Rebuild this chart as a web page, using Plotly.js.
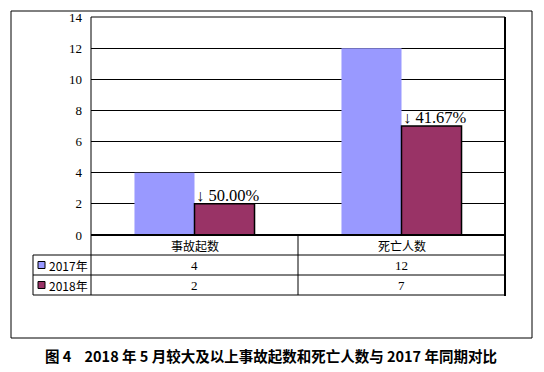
<!DOCTYPE html>
<html><head><meta charset="utf-8">
<script src="https://cdn.plot.ly/plotly-3.0.1.min.js"></script>
<style>html,body{margin:0;padding:0;background:#fff;}#c{width:544px;height:372px;}</style>
</head><body><div id="c"></div>
<script>
var categories = ["事故起数", "死亡人数"];
var seriesNames = ["2017年", "2018年"];
var values2017 = [4, 12];
var values2018 = [2, 7];
var yTicks = [0, 2, 4, 6, 8, 10, 12, 14];
var captionText = "图 4    2018 年 5 月较大及以上事故起数和死亡人数与 2017 年同期对比";

var colors = ["#9999FF", "#993366"];
var cjk = "Noto Sans CJK SC, sans-serif";
var serif = "Liberation Serif, serif";

var traces = [
  {type: "bar", name: seriesNames[0], x: categories, y: values2017,
   marker: {color: colors[0], line: {width: 0}}, hoverinfo: "none"},
  {type: "bar", name: seriesNames[1], x: categories, y: values2018,
   marker: {color: colors[1], line: {color: "#000", width: 1.5}}, hoverinfo: "none"}
];

// pixel helpers (plot area: left 91, right 505, top 17, bottom 235)
var L = 91, R = 505, T = 17, B = 235;
function px(x) { return (x - L) / (R - L); }
function py(y) { return (B - y) / (B - T); }

var shapes = [];
var annotations = [];

// outer frame
shapes.push({type: "rect", xref: "paper", yref: "paper", x0: px(11), x1: px(532), y0: py(338), y1: py(11),
  line: {color: "#000", width: 1}, fillcolor: "rgba(0,0,0,0)", layer: "below"});
// plot area border
shapes.push({type: "line", xref: "paper", yref: "paper", x0: 0, x1: 1, y0: 1, y1: 1, line: {color: "#000", width: 1}});
shapes.push({type: "line", xref: "paper", yref: "paper", x0: 0, x1: 0, y0: 0, y1: 1, line: {color: "#000", width: 1}});
shapes.push({type: "line", xref: "paper", yref: "paper", x0: 1, x1: 1, y0: py(296), y1: 1, line: {color: "#000", width: 2}});
shapes.push({type: "line", xref: "paper", yref: "paper", x0: 0, x1: 1, y0: 0, y1: 0, line: {color: "#000", width: 2}});

// table
var rowLines = [255, 275, 295];
rowLines.forEach(function (r) {
  shapes.push({type: "line", xref: "paper", yref: "paper", x0: px(33), x1: 1, y0: py(r), y1: py(r), line: {color: "#000", width: 1}});
});
shapes.push({type: "line", xref: "paper", yref: "paper", x0: px(33), x1: px(33), y0: py(295), y1: py(255), line: {color: "#000", width: 1}});
shapes.push({type: "line", xref: "paper", yref: "paper", x0: 0, x1: 0, y0: py(295), y1: 0, line: {color: "#000", width: 1}});
for (var i = 0; i < categories.length - 1; i++) {
  shapes.push({type: "line", xref: "x", yref: "paper", x0: i + 0.5, x1: i + 0.5, y0: py(295), y1: 0, line: {color: "#000", width: 1}});
}

// header row
categories.forEach(function (c, i) {
  annotations.push({xref: "x", yref: "paper", x: i, y: py(245), text: c, showarrow: false,
    font: {family: cjk, size: 12, color: "#000"}, xanchor: "center", yanchor: "middle"});
});
// data rows
var rows = [values2017, values2018];
var rowCenters = [265, 285];
rows.forEach(function (vals, r) {
  vals.forEach(function (v, i) {
    annotations.push({xref: "x", yref: "paper", x: i, y: py(rowCenters[r]), text: String(v), showarrow: false,
      font: {family: serif, size: 13, color: "#000"}, xanchor: "center", yanchor: "middle"});
  });
  shapes.push({type: "rect", xref: "paper", yref: "paper", x0: px(38), x1: px(45), y0: py(rowCenters[r] + 3.5), y1: py(rowCenters[r] - 3.5),
    fillcolor: colors[r], line: {color: "#000", width: 1}});
  annotations.push({xref: "paper", yref: "paper", x: px(47), y: py(rowCenters[r]), text: seriesNames[r], showarrow: false,
    font: {family: cjk, size: 12, color: "#000"}, xanchor: "left", yanchor: "middle"});
});

// percent change labels
var bargap = 0.42;
categories.forEach(function (c, i) {
  var pct = ((values2017[i] - values2018[i]) / values2017[i] * 100).toFixed(2) + "%";
  annotations.push({xref: "x", yref: "y", x: i, y: values2018[i], text: "↓ " + pct, showarrow: false,
    font: {family: serif, size: 16.5, color: "#000"}, xanchor: "left", yanchor: "bottom", xshift: -1, yshift: -3});
});

// caption
annotations.push({xref: "paper", yref: "paper", x: px(271), y: py(355), text: "<b>" + captionText + "</b>", showarrow: false,
  font: {family: cjk, size: 14.5, color: "#000"}, xanchor: "center", yanchor: "middle"});

var layout = {
  width: 544, height: 372,
  margin: {l: L, r: 544 - R, t: T, b: 372 - B, pad: 0},
  paper_bgcolor: "#fff", plot_bgcolor: "#fff",
  showlegend: false,
  barmode: "group", bargap: bargap, bargroupgap: 0,
  xaxis: {type: "category", showticklabels: false, ticks: "", showgrid: false, showline: false, zeroline: false,
    range: [-0.5, categories.length - 0.5], fixedrange: true},
  yaxis: {range: [0, 14], tickvals: yTicks, ticktext: yTicks.map(String), showgrid: true, gridcolor: "#000", gridwidth: 1,
    zeroline: false, showline: false, ticks: "", ticklabelstandoff: 8,
    tickfont: {family: serif, size: 13, color: "#000"}, fixedrange: true},
  shapes: shapes,
  annotations: annotations
};

Plotly.newPlot("c", traces, layout, {staticPlot: true, displayModeBar: false});
</script>
</body></html>
